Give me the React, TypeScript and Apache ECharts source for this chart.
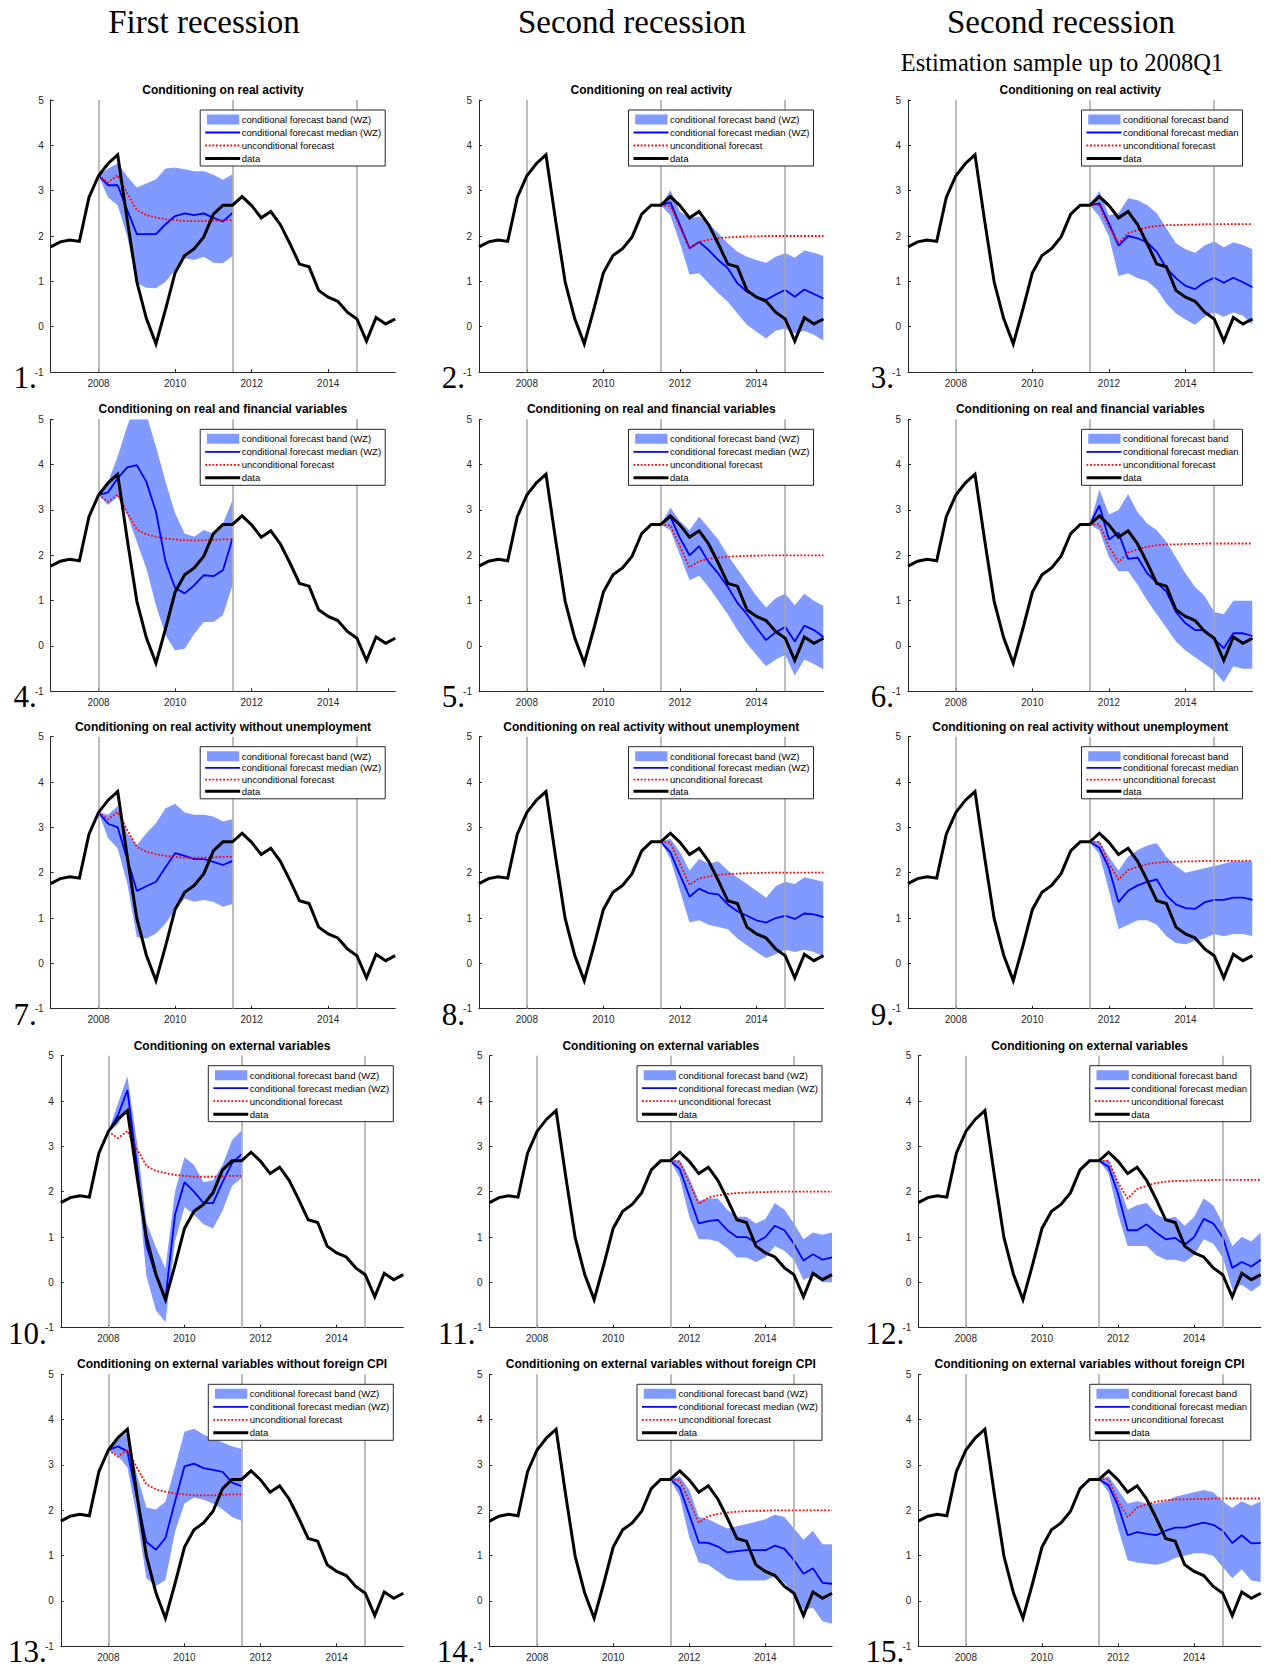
import React, { useEffect, useRef } from "react";
import * as echarts from "echarts";

const WIDTH = 1271;
const HEIGHT = 1669;
const SANS = '"Liberation Sans", Arial, Helvetica, sans-serif';
const SERIF = '"Liberation Serif", "Times New Roman", serif';
const AXIS = "#262626";
const BAND = "#809aff";
const VLINE = "#a6a6a6";

// ---------- shared data ----------
const DATA_START = 2006.75; // 2006Q4, quarterly to 2015Q4
const DATA = [
  1.76, 1.87, 1.91, 1.88, 2.85, 3.33, 3.6, 3.79, 2.35, 0.99, 0.18, -0.38, 0.38,
  1.19, 1.57, 1.72, 1.98, 2.48, 2.68, 2.68, 2.87, 2.67, 2.4, 2.54, 2.25, 1.83,
  1.38, 1.32, 0.8, 0.65, 0.56, 0.32, 0.17, -0.32, 0.2, 0.06, 0.17,
];
const X_MIN = 2006.75;
const X_MAX = 2015.75;
const X_TICKS = [2008, 2010, 2012, 2014];
const VLINES = [2008, 2011.5, 2014.75];
const START_FIRST = 2008;
const START_SECOND = 2011.5;

const UNCOND_FIRST = [3.33, 3.18, 3.34, 2.94, 2.57, 2.46, 2.41, 2.37, 2.35, 2.33, 2.33, 2.33, 2.34, 2.35, 2.35];
const UNCOND_SECOND = [2.68, 2.66, 2.2, 1.73, 1.87, 1.92, 1.95, 1.97, 1.98, 1.99, 1.99, 2.0, 2.0, 2.0, 2.0, 2.0, 2.0, 2.0];
const UNCOND_SECOND_2008 = [2.68, 2.68, 2.2, 1.85, 2.06, 2.13, 2.19, 2.22, 2.24, 2.24, 2.25, 2.25, 2.26, 2.26, 2.26, 2.26, 2.26, 2.26];

// ---------- panel 1 ----------
const P1_MED = [3.33, 3.12, 3.12, 2.57, 2.04, 2.04, 2.04, 2.26, 2.44, 2.5, 2.46, 2.5, 2.4, 2.32, 2.51];
const P1_UP = [3.33, 3.49, 3.6, 3.31, 3.07, 3.16, 3.25, 3.49, 3.51, 3.47, 3.43, 3.43, 3.35, 3.24, 3.36];
const P1_LO = [3.33, 2.85, 2.68, 1.99, 0.96, 0.86, 0.85, 0.99, 1.25, 1.51, 1.47, 1.54, 1.41, 1.4, 1.56];
// ---------- panel 2 ----------
const P2_MED = [2.68, 2.74, 2.24, 1.73, 1.87, 1.69, 1.47, 1.29, 0.96, 0.77, 0.66, 0.59, 0.71, 0.81, 0.66, 0.82, 0.72, 0.62];
const P2_UP = [2.68, 3.01, 2.54, 2.39, 2.43, 2.28, 2.06, 1.84, 1.65, 1.54, 1.47, 1.41, 1.54, 1.62, 1.52, 1.68, 1.63, 1.56];
const P2_LO = [2.68, 2.46, 1.84, 1.15, 1.18, 0.96, 0.74, 0.55, 0.29, 0.04, -0.11, -0.26, -0.09, -0.04, -0.15, -0.09, -0.18, -0.31];
// ---------- panel 3 ----------
const P3_MED = [2.68, 2.72, 2.28, 1.79, 2.0, 1.95, 1.86, 1.65, 1.29, 1.07, 0.9, 0.83, 0.98, 1.08, 0.97, 1.08, 0.98, 0.87];
const P3_UP = [2.68, 2.99, 2.46, 2.5, 2.83, 2.79, 2.68, 2.5, 2.17, 1.84, 1.71, 1.63, 1.79, 1.88, 1.75, 1.86, 1.8, 1.71];
const P3_LO = [2.68, 2.43, 1.99, 1.12, 1.18, 1.07, 1.01, 0.82, 0.51, 0.29, 0.16, 0.04, 0.22, 0.31, 0.22, 0.31, 0.24, 0.04];
// ---------- panel 4 ----------
const P4_MED = [3.33, 3.39, 3.7, 3.94, 3.99, 3.62, 2.96, 1.86, 1.28, 1.16, 1.34, 1.56, 1.54, 1.67, 2.37];
const P4_UP = [3.33, 3.62, 4.18, 4.85, 5.4, 5.1, 4.4, 3.62, 2.93, 2.48, 2.41, 2.56, 2.48, 2.7, 3.22];
const P4_LO = [3.33, 3.11, 3.29, 2.89, 2.3, 1.71, 0.9, 0.24, -0.1, -0.06, 0.27, 0.53, 0.53, 0.68, 1.34];
// ---------- panel 5 ----------
const P5_MED = [2.68, 2.85, 2.38, 2.0, 2.2, 1.85, 1.6, 1.3, 0.95, 0.7, 0.4, 0.13, 0.3, 0.42, 0.1, 0.45, 0.35, 0.2];
const P5_UP = [2.68, 3.05, 2.75, 2.55, 2.85, 2.6, 2.35, 2.0, 1.7, 1.4, 1.1, 0.85, 1.05, 1.15, 0.9, 1.15, 1.0, 0.88];
const P5_LO = [2.68, 2.55, 2.0, 1.45, 1.55, 1.3, 1.0, 0.7, 0.35, 0.05, -0.2, -0.45, -0.3, -0.2, -0.65, -0.3, -0.4, -0.52];
// ---------- panel 6 ----------
const P6_MED = [2.68, 3.1, 2.35, 2.5, 1.92, 1.95, 1.6, 1.4, 1.2, 0.75, 0.5, 0.35, 0.35, 0.15, -0.05, 0.28, 0.28, 0.22];
const P6_UP = [2.68, 3.45, 2.9, 3.0, 3.35, 2.95, 2.7, 2.55, 2.3, 1.95, 1.6, 1.3, 1.1, 0.75, 0.7, 1.0, 1.0, 1.0];
const P6_LO = [2.68, 2.55, 1.95, 1.65, 1.65, 1.35, 1.0, 0.7, 0.4, 0.1, -0.1, -0.25, -0.4, -0.55, -0.8, -0.45, -0.5, -0.5];
// ---------- panel 7 ----------
const P7_MED = [3.33, 3.08, 3.0, 2.3, 1.6, 1.7, 1.8, 2.12, 2.43, 2.37, 2.3, 2.3, 2.24, 2.17, 2.26];
const P7_UP = [3.33, 3.28, 3.47, 2.87, 2.61, 2.87, 3.09, 3.42, 3.52, 3.33, 3.28, 3.28, 3.24, 3.13, 3.18];
const P7_LO = [3.33, 2.76, 2.54, 1.76, 0.58, 0.55, 0.66, 0.88, 1.17, 1.43, 1.36, 1.4, 1.36, 1.25, 1.31];
// ---------- panel 8 ----------
const P8_MED = [2.68, 2.45, 1.95, 1.47, 1.65, 1.55, 1.52, 1.3, 1.15, 1.05, 0.95, 0.9, 1.0, 1.05, 0.98, 1.1, 1.08, 1.02];
const P8_UP = [2.68, 2.75, 2.45, 2.05, 2.3, 2.2, 2.25, 2.05, 1.9, 1.75, 1.6, 1.45, 1.7, 1.8, 1.75, 1.9, 1.85, 1.8];
const P8_LO = [2.68, 2.3, 1.6, 0.9, 0.95, 0.85, 0.8, 0.75, 0.55, 0.4, 0.25, 0.12, 0.2, 0.3, 0.25, 0.3, 0.25, 0.15];
// ---------- panel 9 ----------
const P9_MED = [2.68, 2.55, 2.1, 1.35, 1.6, 1.72, 1.8, 1.85, 1.5, 1.3, 1.22, 1.2, 1.35, 1.4, 1.4, 1.45, 1.45, 1.4];
const P9_UP = [2.68, 2.7, 2.35, 2.05, 2.35, 2.5, 2.6, 2.65, 2.35, 2.15, 2.0, 2.05, 2.1, 2.15, 2.2, 2.25, 2.25, 2.25];
const P9_LO = [2.68, 2.4, 1.6, 0.75, 0.85, 0.95, 0.95, 0.85, 0.6, 0.45, 0.42, 0.5, 0.55, 0.65, 0.6, 0.65, 0.65, 0.6];
// ---------- panel 10 ----------
const P10_MED = [3.33, 3.68, 4.24, 2.59, 0.81, 0.14, -0.37, 1.49, 2.21, 2.0, 1.75, 1.75, 2.21, 2.63, 2.83];
const P10_UP = [3.33, 3.94, 4.54, 3.1, 1.32, 0.77, 0.31, 2.0, 2.76, 2.59, 2.21, 2.25, 2.59, 3.14, 3.35];
const P10_LO = [3.33, 3.48, 3.86, 2.34, 0.14, -0.62, -0.88, 0.9, 1.66, 1.49, 1.28, 1.19, 1.58, 2.13, 2.3];
// ---------- panel 11 ----------
const P11_MED = [2.68, 2.5, 1.9, 1.3, 1.35, 1.38, 1.15, 1.0, 1.0, 0.88, 1.0, 1.25, 1.15, 0.85, 0.48, 0.62, 0.5, 0.55];
const P11_UP = [2.68, 2.7, 2.3, 1.8, 1.85, 1.85, 1.6, 1.45, 1.45, 1.3, 1.4, 1.75, 1.6, 1.3, 0.95, 1.1, 1.05, 1.1];
const P11_LO = [2.68, 2.3, 1.45, 0.95, 0.95, 0.9, 0.75, 0.55, 0.55, 0.45, 0.55, 0.8, 0.7, 0.5, 0.05, 0.15, 0.0, 0.0];
// ---------- panel 12 ----------
const P12_MED = [2.68, 2.55, 1.95, 1.15, 1.15, 1.28, 1.1, 0.95, 0.98, 0.83, 1.0, 1.4, 1.3, 1.0, 0.32, 0.45, 0.35, 0.5];
const P12_UP = [2.68, 2.7, 2.2, 1.6, 1.7, 1.75, 1.5, 1.4, 1.45, 1.25, 1.45, 1.85, 1.7, 1.3, 0.8, 1.0, 0.9, 1.1];
const P12_LO = [2.68, 2.4, 1.5, 0.8, 0.8, 0.8, 0.6, 0.5, 0.5, 0.45, 0.6, 0.95, 0.85, 0.55, -0.15, -0.05, -0.2, -0.05];
// ---------- panel 13 ----------
const P13_MED = [3.33, 3.41, 3.3, 2.27, 1.3, 1.13, 1.39, 2.19, 2.97, 3.03, 2.93, 2.89, 2.85, 2.61, 2.53];
const P13_UP = [3.33, 3.56, 3.71, 2.78, 2.06, 2.02, 2.19, 2.95, 3.73, 3.8, 3.67, 3.58, 3.5, 3.41, 3.36];
const P13_LO = [3.33, 3.2, 2.95, 1.85, 0.5, 0.33, 0.46, 1.52, 2.15, 2.28, 2.23, 2.15, 2.02, 1.85, 1.77];
// ---------- panel 14 ----------
const P14_MED = [2.68, 2.5, 1.9, 1.29, 1.28, 1.2, 1.07, 1.1, 1.12, 1.12, 1.12, 1.22, 1.15, 0.9, 0.6, 0.72, 0.4, 0.38];
const P14_UP = [2.68, 2.75, 2.45, 1.85, 1.8, 1.7, 1.6, 1.65, 1.7, 1.75, 1.8, 1.9, 1.85, 1.6, 1.35, 1.55, 1.25, 1.25];
const P14_LO = [2.68, 2.3, 1.4, 0.85, 0.8, 0.65, 0.5, 0.45, 0.45, 0.45, 0.45, 0.55, 0.4, 0.1, -0.2, -0.15, -0.45, -0.5];
// ---------- panel 15 ----------
const P15_MED = [2.68, 2.55, 2.1, 1.45, 1.52, 1.48, 1.45, 1.55, 1.62, 1.62, 1.68, 1.73, 1.68, 1.55, 1.28, 1.45, 1.27, 1.28];
const P15_UP = [2.68, 2.75, 2.45, 2.15, 2.2, 2.15, 2.15, 2.2, 2.3, 2.35, 2.4, 2.45, 2.4, 2.2, 2.05, 2.2, 2.1, 2.2];
const P15_LO = [2.68, 2.4, 1.6, 0.9, 0.85, 0.82, 0.8, 0.85, 0.95, 1.0, 1.05, 1.05, 1.0, 0.75, 0.5, 0.7, 0.45, 0.42];

const ROW_TITLES = [
  "Conditioning on real activity",
  "Conditioning on real and financial variables",
  "Conditioning on real activity without unemployment",
  "Conditioning on external variables",
  "Conditioning on external variables without foreign CPI",
];
const HEADERS = ["First recession", "Second recession", "Second recession"];
const SUBHEADER = "Estimation sample up to 2008Q1";
const LEGEND_WZ = ["conditional forecast band (WZ)", "conditional forecast median (WZ)", "unconditional forecast", "data"];
const LEGEND_PLAIN = ["conditional forecast band", "conditional forecast median", "unconditional forecast", "data"];

const PANELS = [
  { med: P1_MED, up: P1_UP, lo: P1_LO, unc: UNCOND_FIRST, start: START_FIRST },
  { med: P2_MED, up: P2_UP, lo: P2_LO, unc: UNCOND_SECOND, start: START_SECOND },
  { med: P3_MED, up: P3_UP, lo: P3_LO, unc: UNCOND_SECOND_2008, start: START_SECOND },
  { med: P4_MED, up: P4_UP, lo: P4_LO, unc: UNCOND_FIRST, start: START_FIRST },
  { med: P5_MED, up: P5_UP, lo: P5_LO, unc: UNCOND_SECOND, start: START_SECOND },
  { med: P6_MED, up: P6_UP, lo: P6_LO, unc: UNCOND_SECOND_2008, start: START_SECOND },
  { med: P7_MED, up: P7_UP, lo: P7_LO, unc: UNCOND_FIRST, start: START_FIRST },
  { med: P8_MED, up: P8_UP, lo: P8_LO, unc: UNCOND_SECOND, start: START_SECOND },
  { med: P9_MED, up: P9_UP, lo: P9_LO, unc: UNCOND_SECOND_2008, start: START_SECOND },
  { med: P10_MED, up: P10_UP, lo: P10_LO, unc: UNCOND_FIRST, start: START_FIRST },
  { med: P11_MED, up: P11_UP, lo: P11_LO, unc: UNCOND_SECOND, start: START_SECOND },
  { med: P12_MED, up: P12_UP, lo: P12_LO, unc: UNCOND_SECOND_2008, start: START_SECOND },
  { med: P13_MED, up: P13_UP, lo: P13_LO, unc: UNCOND_FIRST, start: START_FIRST },
  { med: P14_MED, up: P14_UP, lo: P14_LO, unc: UNCOND_SECOND, start: START_SECOND },
  { med: P15_MED, up: P15_UP, lo: P15_LO, unc: UNCOND_SECOND_2008, start: START_SECOND },
];

// ---------- layout ----------
const ROW_TOPS = [100, 419.3, 736.7, 1055.7, 1374.3];
const PLOT_H = 272;
const COL_LEFTS_A = [50.7, 479, 908];
const COL_LEFTS_B = [60.8, 489.5, 918.3];
const PLOT_W_A = 344.5;
const PLOT_W_B = 342.5;
const HEADER_X = [204, 632, 1061];

function textStyle(text: string, font: string, align: string, vAlign = "middle") {
  return {
    text,
    fill: "#000",
    font,
    textAlign: align,
    align,
    textVerticalAlign: vAlign,
    verticalAlign: vAlign,
  };
}

function buildOption() {
  const grid: any[] = [];
  const xAxis: any[] = [];
  const yAxis: any[] = [];
  const series: any[] = [];
  const graphic: any[] = [];

  const dataXY = DATA.map((v, k) => [DATA_START + k * 0.25, v]);

  PANELS.forEach((p, i) => {
    const r = Math.floor(i / 3);
    const c = i % 3;
    const left = r < 3 ? COL_LEFTS_A[c] : COL_LEFTS_B[c];
    const w = r < 3 ? PLOT_W_A : PLOT_W_B;
    const top = ROW_TOPS[r];
    grid.push({ left, top, width: w, height: PLOT_H, containLabel: false });
    xAxis.push({
      gridIndex: i,
      type: "value",
      min: X_MIN,
      max: X_MAX,
      axisLine: { show: true, onZero: false, lineStyle: { color: AXIS, width: 1 } },
      axisTick: { show: true, inside: true, length: 3, customValues: X_TICKS, lineStyle: { color: AXIS } },
      axisLabel: {
        customValues: X_TICKS,
        margin: 6,
        color: AXIS,
        fontSize: 10,
        fontFamily: SANS,
        formatter: (v: number) => String(v),
      },
      splitLine: { show: false },
    });
    yAxis.push({
      gridIndex: i,
      type: "value",
      min: -1,
      max: 5,
      interval: 1,
      axisLine: { show: true, onZero: false, lineStyle: { color: AXIS, width: 1 } },
      axisTick: { show: true, inside: true, length: 3, lineStyle: { color: AXIS } },
      axisLabel: { margin: 7, color: AXIS, fontSize: 10, fontFamily: SANS },
      splitLine: { show: false },
    });

    const xs = p.med.map((_, k) => p.start + k * 0.25);
    const common = {
      xAxisIndex: i,
      yAxisIndex: i,
      silent: true,
      animation: false,
    };
    // forecast band as one polygon through the axis scales
    series.push({
      ...common,
      type: "custom",
      z: 1,
      clip: true,
      encode: { x: 0, y: [1, 2] },
      data: xs.map((x, k) => [x, p.lo[k], p.up[k]]),
      renderItem: (params: any, api: any) => {
        if (params.dataIndex !== 0) return null;
        const pts: number[][] = [];
        for (let k = 0; k < xs.length; k++) pts.push(api.coord([xs[k], p.up[k]]));
        for (let k = xs.length - 1; k >= 0; k--) pts.push(api.coord([xs[k], p.lo[k]]));
        const cs = params.coordSys;
        return {
          type: "polygon",
          shape: { points: pts },
          style: { fill: BAND, stroke: "none" },
          clipPath: { type: "rect", shape: { x: cs.x, y: cs.y, width: cs.width, height: cs.height } },
        };
      },
    });
    series.push({
      ...common,
      type: "line",
      symbol: "none",
      data: [],
      z: 2,
      markLine: {
        silent: true,
        symbol: ["none", "none"],
        label: { show: false },
        lineStyle: { color: VLINE, width: 1.5, type: "solid" },
        emphasis: { disabled: true },
        animation: false,
        data: VLINES.map((v) => ({ xAxis: v })),
      },
    });
    series.push({
      ...common,
      type: "line",
      symbol: "none",
      emphasis: { disabled: true },
      data: xs.map((x, k) => [x, p.med[k]]),
      lineStyle: { color: "#0000ff", width: 1.8 },
      z: 3,
    });
    series.push({
      ...common,
      type: "line",
      symbol: "none",
      emphasis: { disabled: true },
      data: xs.map((x, k) => [x, p.unc[k]]),
      lineStyle: { color: "#ff0000", width: 1.8, type: [1.8, 1.8] },
      z: 4,
    });
    series.push({
      ...common,
      type: "line",
      symbol: "none",
      emphasis: { disabled: true },
      data: dataXY,
      lineStyle: { color: "#000000", width: 3, join: "miter" },
      z: 5,
    });

    // panel title
    graphic.push({
      type: "text",
      x: left + w / 2,
      y: top - 10,
      z: 100,
      style: textStyle(ROW_TITLES[r], `bold 12px ${SANS}`, "center"),
    });
    // panel number
    graphic.push({
      type: "text",
      x: left - 14,
      y: top + PLOT_H + 5.5,
      z: 100,
      style: textStyle(`${i + 1}.`, `31px ${SERIF}`, "right"),
    });

    // legend
    const labels = c === 2 ? LEGEND_PLAIN : LEGEND_WZ;
    const lw = c === 2 ? 161 : 185;
    const L = left + w - 10 - lw;
    const T = top + 10;
    const s = r === 2 ? 11.7 : 13;
    const lh = 17 + 3 * s;
    graphic.push({
      type: "rect",
      z: 100,
      shape: { x: L, y: T, width: lw, height: lh },
      style: { fill: "#ffffff", stroke: "#262626", lineWidth: 1 },
    });
    const ey = (k: number) => T + 9.5 + k * s;
    graphic.push({
      type: "rect",
      z: 101,
      shape: { x: L + 6.7, y: ey(0) - 5, width: 32.3, height: 10 },
      style: { fill: BAND },
    });
    graphic.push({
      type: "line",
      z: 101,
      shape: { x1: L + 5, y1: ey(1), x2: L + 40, y2: ey(1) },
      style: { stroke: "#0000ff", lineWidth: 1.8 },
    });
    graphic.push({
      type: "line",
      z: 101,
      shape: { x1: L + 5, y1: ey(2), x2: L + 40, y2: ey(2) },
      style: { stroke: "#ff0000", lineWidth: 1.8, lineDash: [1.8, 1.8] },
    });
    graphic.push({
      type: "line",
      z: 101,
      shape: { x1: L + 5, y1: ey(3), x2: L + 40, y2: ey(3) },
      style: { stroke: "#000000", lineWidth: 3 },
    });
    labels.forEach((t, k) => {
      graphic.push({
        type: "text",
        x: L + 41.5,
        y: ey(k),
        z: 101,
        style: textStyle(t, `9.5px ${SANS}`, "left"),
      });
    });
  });

  HEADERS.forEach((h, c) => {
    graphic.push({
      type: "text",
      x: HEADER_X[c],
      y: 22,
      z: 100,
      style: textStyle(h, `33px ${SERIF}`, "center"),
    });
  });
  graphic.push({
    type: "text",
    x: 1062,
    y: 62,
    z: 100,
    style: textStyle(SUBHEADER, `24.5px ${SERIF}`, "center"),
  });

  return {
    animation: false,
    backgroundColor: "#ffffff",
    grid,
    xAxis,
    yAxis,
    series,
    graphic,
  };
}

export default function App() {
  const ref = useRef<HTMLDivElement | null>(null);
  useEffect(() => {
    document.body.style.margin = "0";
    if (!ref.current) return;
    const chart = echarts.init(ref.current, undefined, { renderer: "svg", width: WIDTH, height: HEIGHT });
    chart.setOption(buildOption() as any);
    return () => chart.dispose();
  }, []);
  return <div ref={ref} style={{ width: WIDTH, height: HEIGHT, background: "#fff" }} />;
}
